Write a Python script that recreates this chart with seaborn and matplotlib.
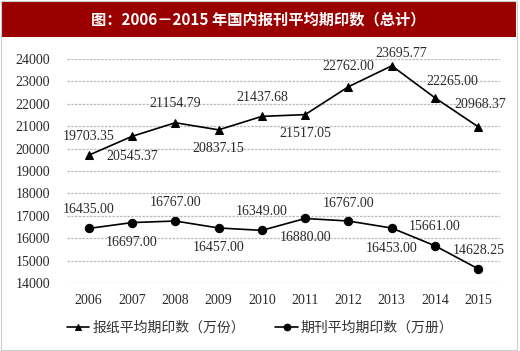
import matplotlib
matplotlib.use("Agg")
import pandas as pd
import seaborn as sns
import matplotlib.pyplot as plt
from matplotlib.patches import Rectangle

years = [2006, 2007, 2008, 2009, 2010, 2011, 2012, 2013, 2014, 2015]
newspaper = [19703.35, 20545.37, 21154.79, 20837.15, 21437.68,
             21517.05, 22762.00, 23695.77, 22265.00, 20968.37]
periodical = [16435.00, 16697.00, 16767.00, 16457.00, 16349.00,
              16880.00, 16767.00, 16453.00, 15661.00, 14628.25]
series_names = ["报纸平均期印数（万份）", "期刊平均期印数（万册）"]
title = "图：2006－2015 年国内报刊平均期印数（总计）"
yticks = [14000, 15000, 16000, 17000, 18000, 19000, 20000, 21000, 22000, 23000, 24000]

# label offsets in pixels (dx, dy)
off_news = [(0, 19), (0, -20), (0, 19), (0, -19), (0, 19),
            (0, -19), (0, 20), (9, 12), (17, 16), (2, 22)]
off_peri = [(0, 19), (0, -20), (0, 19), (0, -20), (0, 19),
            (0, -19), (0, 18), (0, -20), (0, 19), (0, 18)]

sns.set_theme(style="white")
plt.rcParams["font.family"] = ["Liberation Serif", "Noto Sans CJK SC"]

df = pd.DataFrame({"year": years, "news": newspaper, "peri": periodical})

fig = plt.figure(figsize=(5.2, 3.51), dpi=100)
ax = fig.add_axes([67 / 520, 1 - 283 / 351, 433 / 520, 224 / 351])

sns.lineplot(data=df, x="year", y="news", ax=ax, color="black", lw=1.2,
             marker="^", markersize=6, markeredgecolor="black", label=series_names[0])
sns.lineplot(data=df, x="year", y="peri", ax=ax, color="black", lw=1.2,
             marker="o", markersize=6, markeredgecolor="black", label=series_names[1])

for vals, offs in [(newspaper, off_news), (periodical, off_peri)]:
    for x, v, (dx, dy) in zip(years, vals, offs):
        ax.annotate(f"{v:.2f}", (x, v), xytext=(dx, dy), textcoords="offset pixels",
                    ha="center", va="center", fontsize=10, color="#2a2a2a")

ax.set_xlim(2005.5, 2015.5)
ax.set_ylim(14000, 24000)
ax.set_xticks(years)
ax.set_yticks(yticks)
ax.tick_params(axis="y", length=0, pad=12, labelsize=10, labelcolor="#2a2a2a")
ax.tick_params(axis="x", length=0, pad=8, labelsize=10, labelcolor="#2a2a2a")
ax.set_xlabel("")
ax.set_ylabel("")
ax.grid(axis="y", color="#bbbbbb", linestyle=(0, (2, 1)), lw=0.9)
for s in ax.spines.values():
    s.set_visible(False)

leg = ax.legend(loc="center", bbox_to_anchor=(0.446, -0.2), ncol=2, frameon=False,
                handlelength=1.6, handletextpad=0.2, columnspacing=2.2, markerscale=0.8,
                prop={"family": ["Noto Sans CJK SC"], "size": 10})
for t in leg.get_texts():
    t.set_color("#333333")

# title bar
fig.patches.append(Rectangle((2 / 520, 1 - 37 / 351), 514 / 520, 35 / 351,
                             transform=fig.transFigure, facecolor="#9a0000",
                             edgecolor="none", zorder=0))
fig.text(0.497, 1 - 19.5 / 351, title, color="white", ha="center", va="center",
         fontsize=11, fontweight="bold", family=["Noto Sans CJK SC"])
fig.patches.append(Rectangle((0.001, 0.002), 0.994, 0.996, transform=fig.transFigure,
                             facecolor="none", edgecolor="#cccccc", lw=0.8))

fig.savefig("out.png", dpi=100)
